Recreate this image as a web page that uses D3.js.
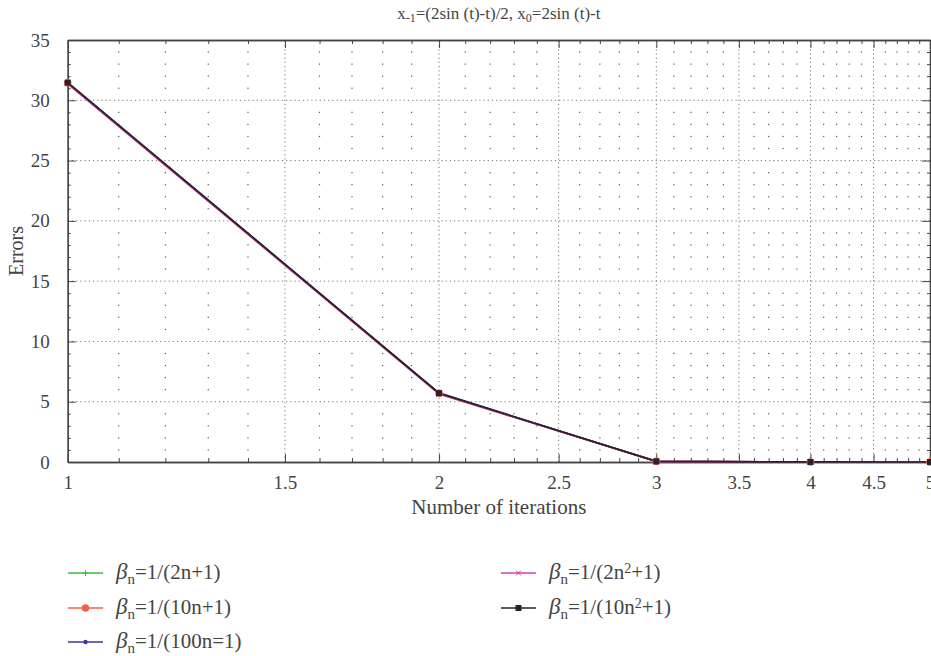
<!DOCTYPE html>
<html>
<head>
<meta charset="utf-8">
<script src="https://cdn.jsdelivr.net/npm/d3@7"></script>
<style>
  html, body { margin: 0; padding: 0; background: #fff; }
  svg { display: block; font-family: "Liberation Serif", "Times New Roman", serif; }
</style>
</head>
<body>
<svg id="chart" width="931" height="656"></svg>
<script>
// Iteration counts and the error of each beta_n choice
const iterations = [1, 2, 3, 4, 5];
const err2n   = [31.40, 5.66, 0.06, 0.004, 0.0003];
const err10n  = [31.45, 5.70, 0.05, 0.003, 0.0002];
const err100n = [31.46, 5.71, 0.05, 0.003, 0.0002];
const err2n2  = [31.36, 5.64, 0.05, 0.003, 0.0002];
const err10n2 = [31.46, 5.71, 0.05, 0.003, 0.0002];

const xMajorTicks = [1, 1.5, 2, 2.5, 3, 3.5, 4, 4.5, 5];
const xTickLabels = ["1", "1.5", "2", "2.5", "3", "3.5", "4", "4.5", "5"];
const yMajorTicks = [0, 5, 10, 15, 20, 25, 30, 35];

const series = [
  { values: err2n,   color: "#3dbb3d", marker: "plus",   label: [["β", "it"], ["n", "sub"], ["=1/(2n+1)", ""]] },
  { values: err10n,  color: "#f2604c", marker: "circle", label: [["β", "it"], ["n", "sub"], ["=1/(10n+1)", ""]] },
  { values: err100n, color: "#3b3799", marker: "dot",    label: [["β", "it"], ["n", "sub"], ["=1/(100n=1)", ""]] },
  { values: err2n2,  color: "#d040a8", marker: "cross",  label: [["β", "it"], ["n", "sub"], ["=1/(2n", ""], ["2", "sup"], ["+1)", ""]] },
  { values: err10n2, color: "#2a2226", marker: "square", label: [["β", "it"], ["n", "sub"], ["=1/(10n", ""], ["2", "sup"], ["+1)", ""]] }
];

const svg = d3.select("#chart");
const textColor = "#444";
const axisColor = "#444";

const plotLeft = 67.7, plotRight = 930, plotTop = 40, plotBottom = 462;
const x = d3.scaleLog().domain([1, 5]).range([plotLeft, plotRight]);
const y = d3.scaleLinear().domain([0, 35]).range([plotBottom, plotTop]);

// minor positions: every 0.1 along x, every unit along y
const xMinor = d3.range(11, 50).map(v => v / 10).filter(v => Math.round(v * 10) % 5 !== 0);
const yMinor = d3.range(1, 35).filter(v => v % 5 !== 0);

// minor grid rendered as sparse dots at the crossings
const dots = svg.append("g").attr("fill", "#555");
xMinor.forEach(xv => {
  yMinor.forEach(yv => {
    dots.append("rect")
      .attr("x", x(xv) - 0.6).attr("y", y(yv) - 0.6)
      .attr("width", 1.2).attr("height", 1.2);
  });
});

// major dotted grid
const grid = svg.append("g")
  .attr("stroke", "#777").attr("stroke-width", 1).attr("stroke-dasharray", "1.2,3");
xMajorTicks.slice(1, -1).forEach(v => {
  grid.append("line").attr("x1", x(v)).attr("x2", x(v)).attr("y1", plotBottom).attr("y2", plotTop);
});
yMajorTicks.slice(1, -1).forEach(v => {
  grid.append("line").attr("x1", plotLeft).attr("x2", plotRight).attr("y1", y(v)).attr("y2", y(v));
});

// axes with ticks on all four sides
const bottomAxis = d3.axisBottom(x).tickValues(xMajorTicks)
  .tickFormat((d, i) => xTickLabels[i]).tickSizeInner(-8).tickSizeOuter(0).tickPadding(14);
svg.append("g").attr("transform", `translate(0,${plotBottom})`).call(bottomAxis);
const topAxis = d3.axisTop(x).tickValues(xMajorTicks).tickFormat("").tickSizeInner(-8).tickSizeOuter(0);
svg.append("g").attr("transform", `translate(0,${plotTop})`).call(topAxis);
const leftAxis = d3.axisLeft(y).tickValues(yMajorTicks).tickSizeInner(-8).tickSizeOuter(0).tickPadding(18);
svg.append("g").attr("transform", `translate(${plotLeft},0)`).call(leftAxis);
const rightAxis = d3.axisRight(y).tickValues(yMajorTicks).tickFormat("").tickSizeInner(-8).tickSizeOuter(0);
svg.append("g").attr("transform", `translate(${plotRight},0)`).call(rightAxis);

// minor ticks
const minorB = d3.axisBottom(x).tickValues(xMinor).tickFormat("").tickSizeInner(-4).tickSizeOuter(0);
svg.append("g").attr("transform", `translate(0,${plotBottom})`).call(minorB);
const minorT = d3.axisTop(x).tickValues(xMinor).tickFormat("").tickSizeInner(-4).tickSizeOuter(0);
svg.append("g").attr("transform", `translate(0,${plotTop})`).call(minorT);
const minorL = d3.axisLeft(y).tickValues(yMinor).tickFormat("").tickSizeInner(-3).tickSizeOuter(0);
svg.append("g").attr("transform", `translate(${plotLeft},0)`).call(minorL);
const minorR = d3.axisRight(y).tickValues(yMinor).tickFormat("").tickSizeInner(-3).tickSizeOuter(0);
svg.append("g").attr("transform", `translate(${plotRight},0)`).call(minorR);

svg.selectAll(".domain").attr("stroke", axisColor).attr("stroke-width", 1.3);
svg.selectAll(".tick line").attr("stroke", axisColor).attr("stroke-width", 1);
svg.selectAll(".tick text")
  .attr("fill", textColor)
  .style("font-family", "'Liberation Serif', serif")
  .style("font-size", "19px");

// series lines and markers
const line = d3.line().x((d, i) => x(iterations[i])).y(d => y(d));
series.forEach(s => {
  svg.append("path").datum(s.values)
    .attr("fill", "none").attr("stroke", s.color).attr("stroke-width", 1.7)
    .attr("d", line);
});

function drawMarker(g, kind, color, cx, cy) {
  if (kind === "plus") {
    g.append("path").attr("d", `M${cx - 3},${cy}H${cx + 3}M${cx},${cy - 3}V${cy + 3}`)
      .attr("stroke", color).attr("stroke-width", 1);
  } else if (kind === "circle") {
    g.append("circle").attr("cx", cx).attr("cy", cy).attr("r", 3.8).attr("fill", color);
  } else if (kind === "dot") {
    g.append("circle").attr("cx", cx).attr("cy", cy).attr("r", 2.2).attr("fill", color);
  } else if (kind === "cross") {
    g.append("path").attr("d", `M${cx - 2.5},${cy - 2.5}L${cx + 2.5},${cy + 2.5}M${cx - 2.5},${cy + 2.5}L${cx + 2.5},${cy - 2.5}`)
      .attr("stroke", color).attr("stroke-width", 1);
  } else if (kind === "square") {
    g.append("rect").attr("x", cx - 3).attr("y", cy - 3).attr("width", 6).attr("height", 6).attr("fill", color);
  }
}

series.forEach(s => {
  const g = svg.append("g");
  s.values.forEach((v, i) => drawMarker(g, s.marker, s.color, x(iterations[i]), y(v)));
});

// title
const title = svg.append("text")
  .attr("x", (plotLeft + plotRight) / 2).attr("y", 19)
  .attr("text-anchor", "middle").attr("fill", textColor)
  .style("font-size", "17px");
[["x", ""], ["-1", "sub"], ["=(2sin (t)-t)/2, x", ""], ["0", "sub"], ["=2sin (t)-t", ""]].forEach(([t, k]) => {
  const ts = title.append("tspan").text(t);
  if (k === "sub") ts.attr("baseline-shift", "-25%").style("font-size", "12px");
});

// axis labels
svg.append("text")
  .attr("x", (plotLeft + plotRight) / 2).attr("y", 514)
  .attr("text-anchor", "middle").attr("fill", textColor)
  .style("font-size", "21px")
  .text("Number of iterations");

svg.append("text")
  .attr("transform", `translate(23,251) rotate(-90)`)
  .attr("text-anchor", "middle").attr("fill", textColor)
  .style("font-size", "20px")
  .text("Errors");

// legend in two columns
const legendPos = [
  { lx: 68, ly: 573 }, { lx: 68, ly: 608 }, { lx: 68, ly: 642 },
  { lx: 501, ly: 573 }, { lx: 501, ly: 608 }
];
series.forEach((s, i) => {
  const p = legendPos[i];
  const g = svg.append("g");
  g.append("line").attr("x1", p.lx).attr("x2", p.lx + 35).attr("y1", p.ly).attr("y2", p.ly)
    .attr("stroke", s.color).attr("stroke-width", 1.6);
  drawMarker(g, s.marker, s.color, p.lx + 17.5, p.ly);
  const t = g.append("text").attr("x", p.lx + 48).attr("y", p.ly + 6)
    .attr("fill", textColor).style("font-size", "21px");
  s.label.forEach(([str, kind]) => {
    const ts = t.append("tspan").text(str);
    if (kind === "it") ts.style("font-style", "italic").style("font-size", "23px");
    if (kind === "sub") ts.attr("baseline-shift", "-30%").style("font-size", "15px");
    if (kind === "sup") ts.attr("baseline-shift", "45%").style("font-size", "14px");
  });
});
</script>
</body>
</html>
